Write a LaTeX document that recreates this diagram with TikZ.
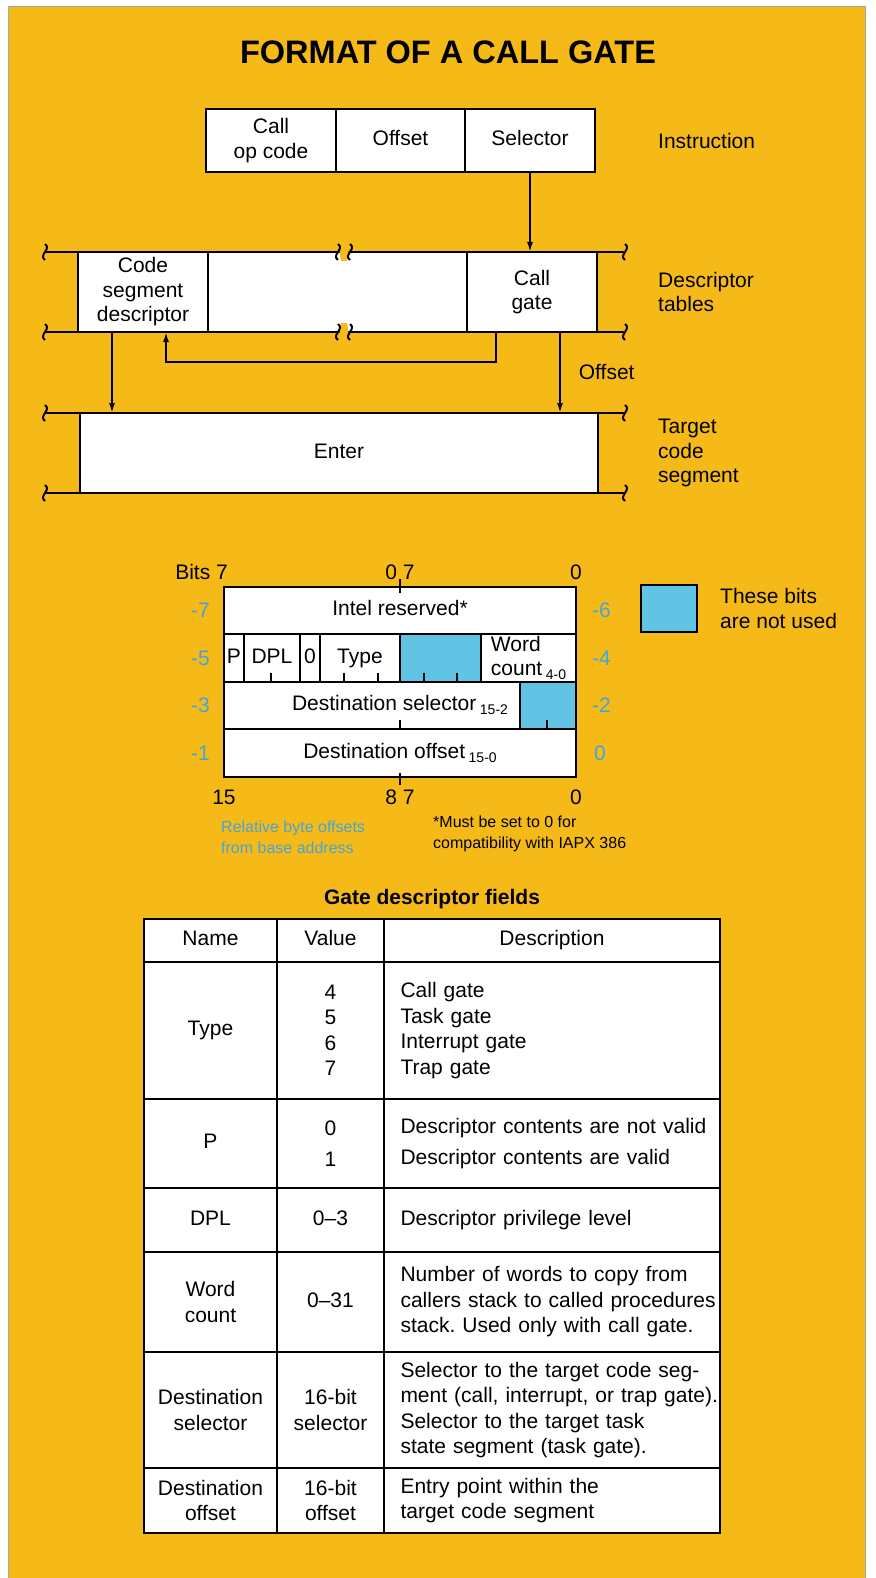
\documentclass[tikz,border=0pt]{standalone}
\usepackage{fontspec}
\setmainfont{Liberation Sans}
\usetikzlibrary{positioning, arrows.meta}
\definecolor{gateorange}{RGB}{246,186,24}
\definecolor{unusedblue}{RGB}{98,196,228}
\definecolor{offsetblue}{RGB}{70,165,215}
\newcommand{\bitsub}[1]{\,{\fontsize{14}{14}\selectfont\raisebox{-4pt}{#1}}}
\tikzset{
  field/.style={rectangle, draw=black, fill=white, line width=2.6pt, outer sep=0pt, inner sep=0pt, align=center},
  oneline/.style={text height=15pt, text depth=4.5pt},
  rail/.style={line width=2.6pt},
  wavyend/.pic={\draw[line width=2pt] (0,-8) .. controls (7,-3) and (-7,3) .. (0,8);},
  arrow/.style={line width=1.8pt, -{Latex[length=10pt, width=6pt]}},
  bitcell/.style={field, minimum height=48pt},
  unused/.style={field, fill=unusedblue},
  bittick/.style={line width=1.8pt},
  offnum/.style={text=offsetblue},
  note/.style={font=\fontsize{16}{21}\selectfont, align=left},
  tcell/.style={field, anchor=north west, font=\fontsize{21}{25.5}\selectfont},
  desc/.style={tcell, align=left, text width=335pt, inner xsep=0.5pt, execute at begin node={\leftskip=16pt\hbadness=10000}}
}
\begin{document}
\frenchspacing
\begin{tikzpicture}[x=1pt, y=-1pt, every node/.style={font=\fontsize{21}{24.5}\selectfont, inner sep=0pt}]
        \useasboundingbox (0,0) rectangle (875,1578);
        \fill[gateorange, draw=gray!70, line width=1pt] (8,7) rectangle (865,1580);

        \node[font=\bfseries\fontsize{32.5}{32.5}\selectfont] (title) at (448,52) {FORMAT OF A CALL GATE};

        % Instruction
        \node[field, minimum width=130pt, minimum height=63pt] (opcode) at (271,140.5) {Call\\op code};
        \node[field, oneline, minimum width=129pt, minimum height=63pt, right=0pt of opcode] (offs) {Offset};
        \node[field, oneline, minimum width=130pt, minimum height=63pt, right=0pt of offs] (sel) {Selector};
        \node[right=63pt of sel] (instr) {Instruction};

        % Descriptor tables
        \node[field, minimum width=130pt, minimum height=80pt] (codeseg) at (143,292) {Code\\segment\\descriptor};
        \node[field, minimum width=259pt, minimum height=80pt, right=0pt of codeseg] (midseg) {};
        \node[field, minimum width=130pt, minimum height=80pt, right=0pt of midseg] (callgate) {Call\\gate};
        \node[right=61pt of callgate, align=left] (desctab) {Descriptor\\tables};
        \draw[rail] (45,252) -- (625,252) (45,332) -- (625,332);
        \fill[gateorange] (339,248) -- (349,248) -- (347,261) -- (341,261) -- cycle;
        \fill[gateorange] (339,336) -- (349,336) -- (347,323) -- (341,323) -- cycle;
        \path (45,252) pic{wavyend} (338,252) pic{wavyend} (350,252) pic{wavyend} (625,252) pic{wavyend};
        \path (45,332) pic{wavyend} (338,332) pic{wavyend} (350,332) pic{wavyend} (625,332) pic{wavyend};

        % Target code segment
        \node[field, oneline, minimum width=518pt, minimum height=80pt] (enter) at (339,453) {Enter};
        \node[right=60pt of enter, align=left] (target) {Target\\code\\segment};
        \draw[rail] (45,413) -- (625,413) (45,493) -- (625,493);
        \path (45,413) pic{wavyend} (625,413) pic{wavyend} (45,493) pic{wavyend} (625,493) pic{wavyend};

        \draw[arrow] (sel.south) -- (sel.south |- callgate.north);
        \draw[arrow] ([xshift=-36pt]callgate.south) -- ++(0,30) -| ([xshift=23pt]codeseg.south);
        \draw[arrow] ([xshift=-31pt]codeseg.south) -- ([xshift=-31pt]codeseg.south |- enter.north);
        \draw[arrow] ([xshift=28pt]callgate.south) -- node[right=18pt] {Offset} ([xshift=28pt]callgate.south |- enter.north);

        % Gate descriptor layout
        \node[field, oneline, minimum width=352pt, minimum height=47pt, anchor=north west] (intel) at (224,587) {Intel reserved*};
        \node[bitcell, oneline, minimum width=20pt, anchor=north west] (pbit) at (intel.south west) {P};
        \node[bitcell, oneline, minimum width=56pt, right=0pt of pbit] (dpl) {DPL};
        \node[bitcell, oneline, minimum width=20pt, right=0pt of dpl] (zbit) {0};
        \node[bitcell, oneline, minimum width=80pt, right=0pt of zbit] (typ) {Type};
        \node[bitcell, unused, minimum width=81pt, right=0pt of typ] (gap2) {};
        \node[bitcell, minimum width=95pt, right=0pt of gap2, align=left] (wcount) {Word\\count\bitsub{4-0}};
        \node[bitcell, oneline, minimum width=352pt, minimum height=47pt, anchor=north west] (destsel) at (pbit.south west) {Destination selector\bitsub{15-2}};
        \node[bitcell, unused, minimum width=56pt, minimum height=47pt, anchor=north east] (gap3) at (destsel.north east) {};
        \node[bitcell, oneline, minimum width=352pt, anchor=north west] (destoff) at (destsel.south west) {Destination offset\bitsub{15-0}};

        \draw[bittick] ([yshift=8pt]intel.north) -- ([yshift=-6pt]intel.north);
        \draw[bittick] ([yshift=4pt]destoff.south) -- ([yshift=-8pt]destoff.south);
        \draw[bittick] (271,682) -- ++(0,-9) (344,682) -- ++(0,-9) (378,682) -- ++(0,-9) (424,682) -- ++(0,-9) (457,682) -- ++(0,-9);
        \draw[bittick] (400,729) -- ++(0,-9) (547,729) -- ++(0,-9);

        % bit numbers
        \node[anchor=east] (bitstl) at (228,572) {Bits 7};
        \node (bitstm) at (400,572) {0 7};
        \node (bitstr) at (576,572) {0};
        \node (bitsbl) at (224,797) {15};
        \node (bitsbm) at (400,797) {8 7};
        \node (bitsbr) at (576,797) {0};

        % byte offsets
        \node[offnum, left=14pt of intel.west] (offa) {-7};
        \node[offnum, right=16pt of intel.east] (offb) {-6};
        \node[offnum, left=14pt of pbit.west] (offc) {-5};
        \node[offnum, right=16pt of wcount.east] (offd) {-4};
        \node[offnum, left=14pt of destsel.west] (offe) {-3};
        \node[offnum, right=16pt of destsel.east] (offf) {-2};
        \node[offnum, left=14pt of destoff.west] (offg) {-1};
        \node[offnum, right=18pt of destoff.east] (offh) {0};

        \node[note, text=offsetblue, anchor=west] (relnote) at (221,837) {Relative byte offsets\\from base address};
        \node[note, anchor=west] (mustnote) at (433,834) {*Must be set to 0 for\\compatibility with IAPX 386};

        % legend
        \node[unused, minimum width=56pt, minimum height=47pt, anchor=north west] (legbox) at (641,585) {};
        \node[right=23pt of legbox, align=left] (legtext) {These bits\\are not used};

        % Gate descriptor fields
        \node[font=\bfseries\fontsize{21}{21}\selectfont] (tabtitle) at (432,899) {Gate descriptor fields};
        \node[tcell, oneline, minimum width=133pt, minimum height=43pt] (hname) at (144,919) {Name};
        \node[tcell, oneline, minimum width=107pt, minimum height=43pt] (hval) at (hname.north east) {Value};
        \node[tcell, oneline, minimum width=336pt, minimum height=43pt] (hdesc) at (hval.north east) {Description};

        \node[tcell, oneline, minimum width=133pt, minimum height=137pt] (typename) at (hname.south west) {Type};
        \node[tcell, minimum width=107pt, minimum height=137pt] (typeval) at (typename.north east) {4\\5\\6\\7};
        \node[desc, minimum height=137pt] (typedesc) at (typeval.north east) {Call gate\\Task gate\\Interrupt gate\\Trap gate};

        \node[tcell, oneline, minimum width=133pt, minimum height=89pt] (pname) at (typename.south west) {P};
        \node[tcell, minimum width=107pt, minimum height=89pt] (pval) at (pname.north east) {0\\[6pt]1};
        \node[desc, minimum height=89pt] (pdesc) at (pval.north east) {Descriptor contents are not valid\\[6pt]Descriptor contents are valid};

        \node[tcell, oneline, minimum width=133pt, minimum height=64pt] (dplname) at (pname.south west) {DPL};
        \node[tcell, oneline, minimum width=107pt, minimum height=64pt] (dplval) at (dplname.north east) {0--3};
        \node[desc, minimum height=64pt] (dpldesc) at (dplval.north east) {Descriptor privilege level};

        \node[tcell, minimum width=133pt, minimum height=100pt] (wcname) at (dplname.south west) {Word\\count};
        \node[tcell, oneline, minimum width=107pt, minimum height=100pt] (wcval) at (wcname.north east) {0--31};
        \node[desc, minimum height=100pt] (wcdesc) at (wcval.north east) {Number of words to copy from\\callers stack to called procedures\\stack. Used only with call gate.};

        \node[tcell, minimum width=133pt, minimum height=116pt] (dsname) at (wcname.south west) {Destination\\selector};
        \node[tcell, minimum width=107pt, minimum height=116pt] (dsval) at (dsname.north east) {16-bit\\selector};
        \node[desc, minimum height=116pt] (dsdesc) at (dsval.north east) {Selector to the target code seg-\\ment (call, interrupt, or trap gate).\\Selector to the target task\\state segment (task gate).};

        \node[tcell, minimum width=133pt, minimum height=65pt] (doname) at (dsname.south west) {Destination\\offset};
        \node[tcell, minimum width=107pt, minimum height=65pt] (doval) at (doname.north east) {16-bit\\offset};
        \node[desc, minimum height=65pt] (dodesc) at (doval.north east) {Entry point within the\\target code segment};
\end{tikzpicture}
\end{document}
